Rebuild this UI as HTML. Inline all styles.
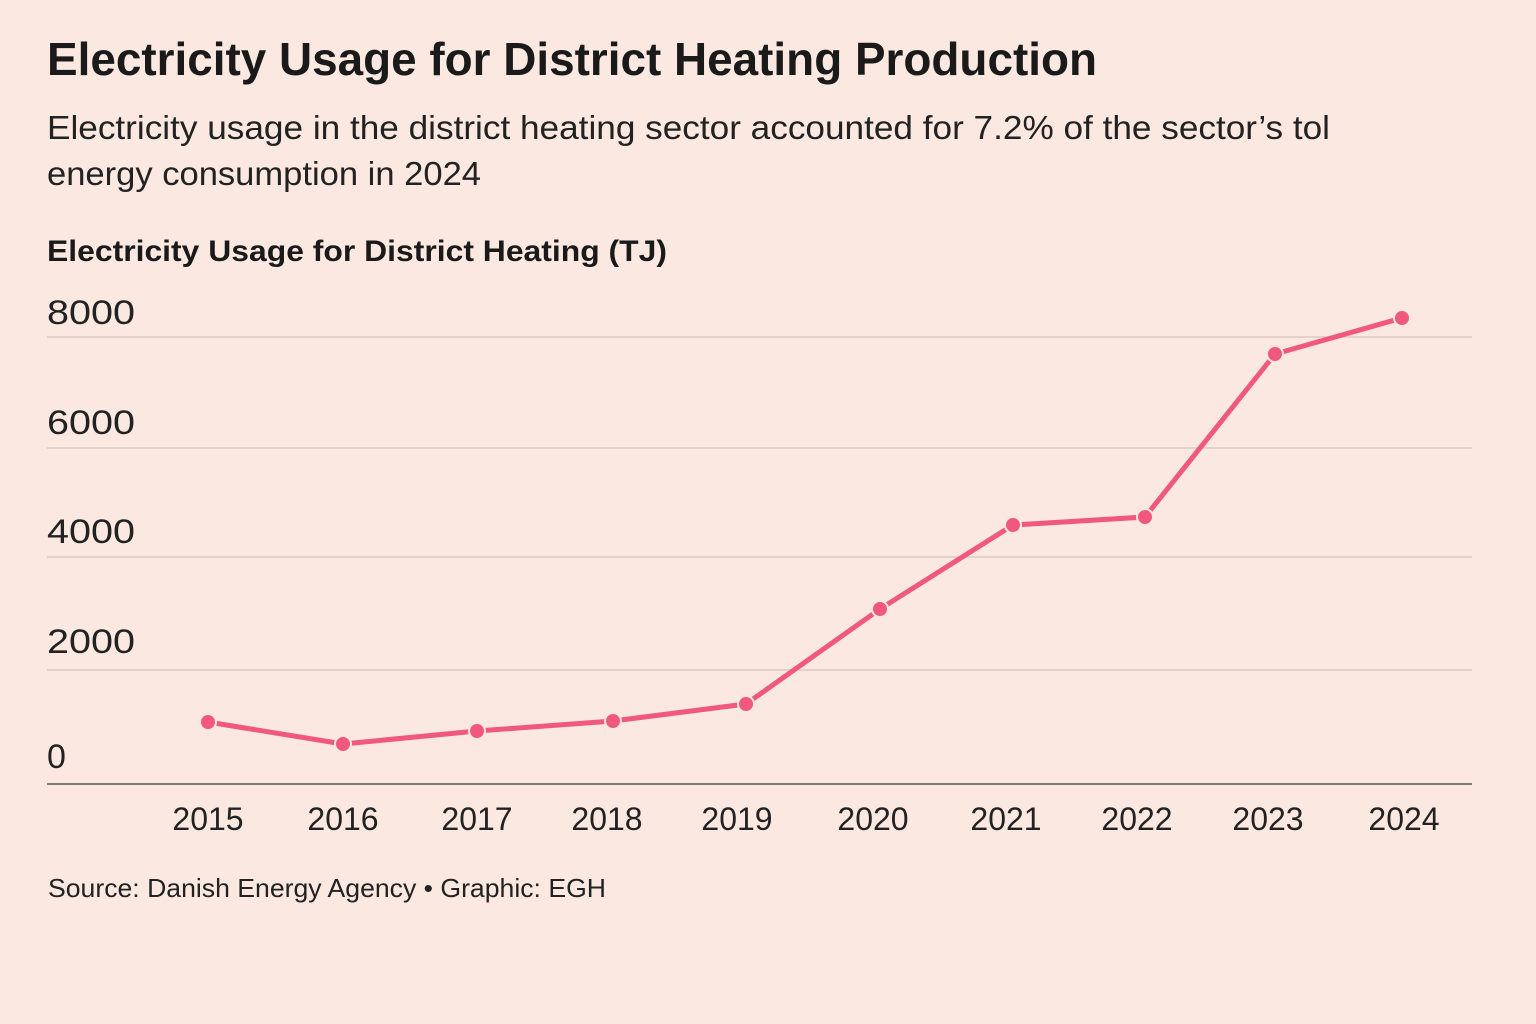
<!DOCTYPE html>
<html><head><meta charset="utf-8"><style>
body{margin:0;width:1536px;height:1024px;background:#fbe9e1;overflow:hidden;font-family:"Liberation Sans",sans-serif;color:#1a1a1a}
svg{position:absolute;left:0;top:0}
</style></head><body>
<svg width="1536" height="1024" viewBox="0 0 1536 1024">
<rect width="1536" height="1024" fill="#fbe9e1"/>
<text x="47" y="75" font-size="46" font-weight="bold" font-family="Liberation Sans Narrow, Liberation Sans, sans-serif" fill="#1a1a1a" textLength="1050" lengthAdjust="spacingAndGlyphs">Electricity Usage for District Heating Production</text>
<text x="47" y="139" font-size="33" fill="#222" textLength="1283" lengthAdjust="spacingAndGlyphs">Electricity usage in the district heating sector accounted for 7.2% of the sector’s tol</text>
<text x="47" y="185" font-size="33" fill="#222" textLength="434" lengthAdjust="spacingAndGlyphs">energy consumption in 2024</text>
<text x="47" y="261" font-size="30" font-weight="bold" fill="#1a1a1a" textLength="620" lengthAdjust="spacingAndGlyphs">Electricity Usage for District Heating (TJ)</text>
<g stroke="#d9cbc4" stroke-width="1.5">
<line x1="47" y1="337" x2="1472" y2="337"/>
<line x1="47" y1="448" x2="1472" y2="448"/>
<line x1="47" y1="557" x2="1472" y2="557"/>
<line x1="47" y1="670" x2="1472" y2="670"/>
</g>
<line x1="47" y1="784" x2="1472" y2="784" stroke="#555" stroke-width="1.5"/>
<g font-size="34" fill="#222">
<text x="47" y="324" textLength="88" lengthAdjust="spacingAndGlyphs">8000</text>
<text x="47" y="434" textLength="88" lengthAdjust="spacingAndGlyphs">6000</text>
<text x="47" y="543" textLength="88" lengthAdjust="spacingAndGlyphs">4000</text>
<text x="47" y="653" textLength="88" lengthAdjust="spacingAndGlyphs">2000</text>
<text x="47" y="768">0</text>
</g>
<g font-size="32" fill="#222" text-anchor="middle">
<text x="208" y="830">2015</text><text x="343" y="830">2016</text><text x="477" y="830">2017</text><text x="607" y="830">2018</text><text x="737" y="830">2019</text><text x="873" y="830">2020</text><text x="1006" y="830">2021</text><text x="1137" y="830">2022</text><text x="1268" y="830">2023</text><text x="1404" y="830">2024</text>
</g>
<polyline fill="none" stroke="#f0587c" stroke-width="5" stroke-linejoin="round" points="208,722 343,744 477,731 613,721 746,704 880,609 1013,525 1145,517 1275,354 1402,318"/>
<g fill="#f0587c" stroke="#fbe9e1" stroke-width="2">
<circle cx="208" cy="722" r="8"/><circle cx="343" cy="744" r="8"/><circle cx="477" cy="731" r="8"/><circle cx="613" cy="721" r="8"/><circle cx="746" cy="704" r="8"/><circle cx="880" cy="609" r="8"/><circle cx="1013" cy="525" r="8"/><circle cx="1145" cy="517" r="8"/><circle cx="1275" cy="354" r="8"/><circle cx="1402" cy="318" r="8"/>
</g>
<text x="48" y="897" font-size="26" fill="#222" textLength="558" lengthAdjust="spacingAndGlyphs">Source: Danish Energy Agency • Graphic: EGH</text>
</svg>
</body></html>
